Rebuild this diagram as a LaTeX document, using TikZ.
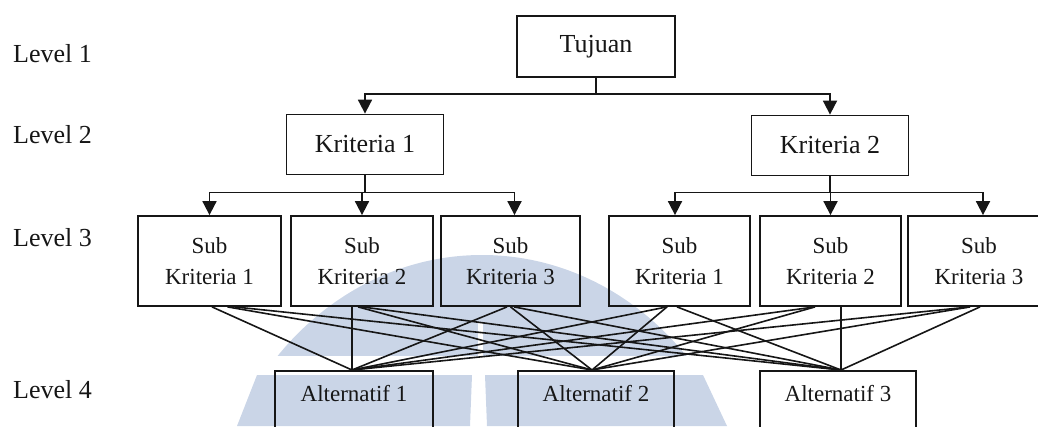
\documentclass[tikz,border=0pt]{standalone}
\usepackage{fontspec}
\setmainfont{Liberation Serif}
\usetikzlibrary{arrows.meta}
\definecolor{wm}{RGB}{202,213,231}
\definecolor{ink}{RGB}{22,22,22}
\begin{document}
\begin{tikzpicture}[x=1pt,y=-1pt,
  box/.style={draw=ink,line width=1.8pt,inner sep=0pt,align=center,text=ink},
  topbox/.style={box,minimum width=157pt,minimum height=60pt,font=\fontsize{26}{30}\selectfont},
  subbox/.style={box,minimum height=90pt,font=\fontsize{23}{31}\selectfont},
  altbox/.style={box,anchor=north,minimum height=62pt,text height=16pt,text depth=16pt,font=\fontsize{23}{28}\selectfont},
  lvl/.style={anchor=base west,inner sep=0pt,text=ink,font=\fontsize{26}{30}\selectfont},
  arr/.style={draw=ink,line width=1.8pt,-{Triangle[length=14pt,width=14pt]}},
  link/.style={draw=ink,line width=1.8pt},
  web/.style={draw=ink,line width=1.6pt}]
\useasboundingbox (0,0) rectangle (1038,426);
\clip (0,0) rectangle (1038,426);
% watermark
\begin{scope}
  \clip (0,0) rectangle (1038,355);
  \fill[wm] (482,560) ellipse [x radius=275, y radius=305];
\end{scope}
\fill[white] (478,323) rectangle (483,356);
\fill[wm] (257,375) -- (237,426) -- (470,426) -- (472,375) -- cycle;
\fill[wm] (485,375) -- (487,426) -- (727,426) -- (703,375) -- cycle;
% level labels
\node[lvl] (l1) at (13,62) {Level 1};
\node[lvl] (l2) at (13,143) {Level 2};
\node[lvl] (l3) at (13,246) {Level 3};
\node[lvl] (l4) at (13,398) {Level 4};
% level 1 and 2
\node[topbox,minimum width=158pt,minimum height=61pt] (t) at (596,46.5) {Tujuan};
\node[topbox] (k1) at (365,144.5) {Kriteria 1};
\node[topbox] (k2) at (830,145.5) {Kriteria 2};
% level 3
\node[subbox,minimum width=143pt] (b1) at (209.5,261) {Sub\\Kriteria 1};
\node[subbox,minimum width=142pt] (b2) at (362,261) {Sub\\Kriteria 2};
\node[subbox,minimum width=139pt] (b3) at (510.5,261) {Sub\\Kriteria 3};
\node[subbox,minimum width=141pt] (b4) at (679.5,261) {Sub\\Kriteria 1};
\node[subbox,minimum width=141pt] (b5) at (830.5,261) {Sub\\Kriteria 2};
\node[subbox,minimum width=142pt] (b6) at (979,261) {Sub\\Kriteria 3};
% level 4
\node[altbox,minimum width=158pt] (a1) at (354,370) {Alternatif 1};
\node[altbox,minimum width=156pt] (a2) at (596,370) {Alternatif 2};
\node[altbox,minimum width=156pt] (a3) at (838,370) {Alternatif 3};
% tree connectors
\draw[link] (t.south) -- ++(0,16) coordinate (tj);
\draw[arr] (tj) -| (k1.north);
\draw[arr] (tj) -| (k2.north);
\draw[link] (k1.south) -- ++(0,17) coordinate (kj1);
\draw[arr] (kj1) -| (b1.north);
\draw[arr] (kj1) -| (b2.north);
\draw[arr] (kj1) -| ([xshift=4pt]b3.north);
\draw[link] (k2.south) -- ++(0,16) coordinate (kj2);
\draw[arr] (kj2) -| ([xshift=-4.5pt]b4.north);
\draw[arr] (kj2) -| (b5.north);
\draw[arr] (kj2) -| ([xshift=4pt]b6.north);
% web connectors
\draw[web] ([xshift=2.5pt]b1.south) -- ([xshift=-2pt]a1.north);
\draw[web] ([xshift=18pt]b1.south) -- ([xshift=-4pt]a2.north);
\draw[web] ([xshift=25pt]b1.south) -- ([xshift=3pt]a3.north);
\draw[web] ([xshift=-10pt]b2.south) -- ([xshift=-2pt]a1.north);
\draw[web] ([xshift=-4pt]b2.south) -- ([xshift=-4pt]a2.north);
\draw[web] (b2.south) -- ([xshift=3pt]a3.north);
\draw[web] ([xshift=-3.5pt]b3.south) -- ([xshift=-2pt]a1.north);
\draw[web] (b3.south) -- ([xshift=-4pt]a2.north);
\draw[web] ([xshift=3.5pt]b3.south) -- ([xshift=3pt]a3.north);
\draw[web] ([xshift=-12.5pt]b4.south) -- ([xshift=-2pt]a1.north);
\draw[web] ([xshift=-12.5pt]b4.south) -- ([xshift=-4pt]a2.north);
\draw[web] ([xshift=-2.5pt]b4.south) -- ([xshift=3pt]a3.north);
\draw[web] ([xshift=-15.5pt]b5.south) -- ([xshift=-2pt]a1.north);
\draw[web] ([xshift=-15.5pt]b5.south) -- ([xshift=-4pt]a2.north);
\draw[web] ([xshift=10.5pt]b5.south) -- ([xshift=3pt]a3.north);
\draw[web] ([xshift=-9pt]b6.south) -- ([xshift=-2pt]a1.north);
\draw[web] ([xshift=-9pt]b6.south) -- ([xshift=-4pt]a2.north);
\draw[web] ([xshift=1pt]b6.south) -- ([xshift=3pt]a3.north);
\end{tikzpicture}
\end{document}
